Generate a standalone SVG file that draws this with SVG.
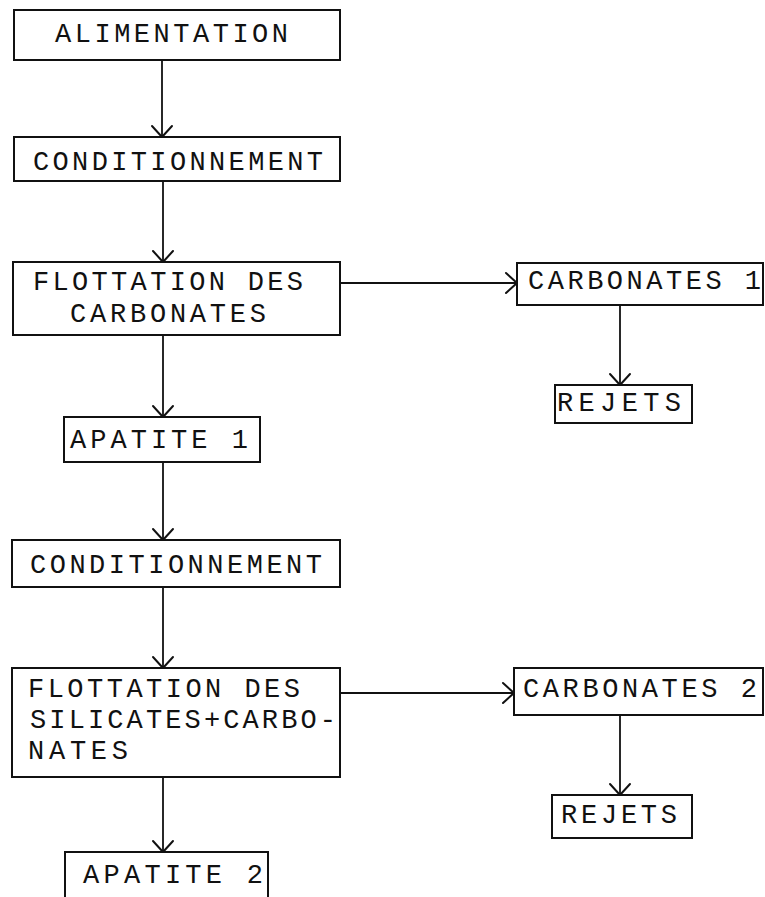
<svg xmlns="http://www.w3.org/2000/svg" width="765" height="897" viewBox="0 0 765 897">
<style>
  .box{fill:#fff;stroke:#111;stroke-width:2}
  .t{font-family:"Liberation Mono","Courier New",monospace;font-size:27px;fill:#111}
  .c{stroke:#111;stroke-width:1.8;fill:none}
  .ah{stroke:#111;stroke-width:2;fill:none;stroke-linecap:round;stroke-linejoin:round}
</style>
<rect width="765" height="897" fill="#fff"/>
<g id="connectors">
  <line class="c" x1="162" y1="60" x2="162" y2="137"/>
  <path class="ah" d="M152,126 L162,137 L172,126"/>
  <line class="c" x1="163" y1="181" x2="163" y2="262"/>
  <path class="ah" d="M153,251 L163,262 L173,251"/>
  <line class="c" x1="163" y1="335" x2="163" y2="417"/>
  <path class="ah" d="M153,406 L163,417 L173,406"/>
  <line class="c" x1="163" y1="462" x2="163" y2="540"/>
  <path class="ah" d="M153,529 L163,540 L173,529"/>
  <line class="c" x1="163" y1="587" x2="163" y2="668"/>
  <path class="ah" d="M153,657 L163,668 L173,657"/>
  <line class="c" x1="163" y1="777" x2="163" y2="852"/>
  <path class="ah" d="M153,841 L163,852 L173,841"/>
  <line class="c" x1="340" y1="283" x2="517" y2="283"/>
  <path class="ah" d="M506,273 L517,283 L506,293"/>
  <line class="c" x1="620" y1="305" x2="620" y2="385"/>
  <path class="ah" d="M610,374 L620,385 L630,374"/>
  <line class="c" x1="340" y1="693" x2="514" y2="693"/>
  <path class="ah" d="M503,683 L514,693 L503,703"/>
  <line class="c" x1="620" y1="715" x2="620" y2="795"/>
  <path class="ah" d="M610,784 L620,795 L630,784"/>
</g>
<g id="alimentation">
  <rect class="box" x="14" y="10" width="326" height="50"/>
  <text class="t" x="55" y="42" textLength="233" lengthAdjust="spacing">ALIMENTATION</text>
</g>
<g id="conditionnement1">
  <rect class="box" x="14" y="137" width="326" height="44"/>
  <text class="t" x="33" y="170" textLength="290" lengthAdjust="spacing">CONDITIONNEMENT</text>
</g>
<g id="flottation1">
  <rect class="box" x="13" y="262" width="327" height="73"/>
  <text class="t" x="33" y="290" textLength="270" lengthAdjust="spacing">FLOTTATION DES</text>
  <text class="t" x="70" y="322" textLength="196" lengthAdjust="spacing">CARBONATES</text>
</g>
<g id="apatite1">
  <rect class="box" x="64" y="417" width="196" height="45"/>
  <text class="t" x="70" y="448" textLength="178" lengthAdjust="spacing">APATITE 1</text>
</g>
<g id="conditionnement2">
  <rect class="box" x="12" y="540" width="328" height="47"/>
  <text class="t" x="30" y="573" textLength="292" lengthAdjust="spacing">CONDITIONNEMENT</text>
</g>
<g id="flottation2">
  <rect class="box" x="12" y="668" width="328" height="109"/>
  <text class="t" x="28" y="697" textLength="272" lengthAdjust="spacing">FLOTTATION DES</text>
  <text class="t" x="30" y="728" textLength="306" lengthAdjust="spacing">SILICATES+CARBO-</text>
  <text class="t" x="28" y="759" textLength="100" lengthAdjust="spacing">NATES</text>
</g>
<g id="apatite2">
  <rect class="box" x="65" y="852" width="203" height="50"/>
  <text class="t" x="83" y="883" textLength="180" lengthAdjust="spacing">APATITE 2</text>
</g>
<g id="carbonates1">
  <rect class="box" x="517" y="263" width="246" height="42"/>
  <text class="t" x="528" y="289" textLength="233" lengthAdjust="spacing">CARBONATES 1</text>
</g>
<g id="rejets1">
  <rect class="box" x="555" y="385" width="137" height="38"/>
  <text class="t" x="557" y="411" textLength="124" lengthAdjust="spacing">REJETS</text>
</g>
<g id="carbonates2">
  <rect class="box" x="514" y="668" width="249" height="47"/>
  <text class="t" x="523" y="697" textLength="234" lengthAdjust="spacing">CARBONATES 2</text>
</g>
<g id="rejets2">
  <rect class="box" x="552" y="795" width="140" height="43"/>
  <text class="t" x="561" y="823" textLength="116" lengthAdjust="spacing">REJETS</text>
</g>
</svg>
